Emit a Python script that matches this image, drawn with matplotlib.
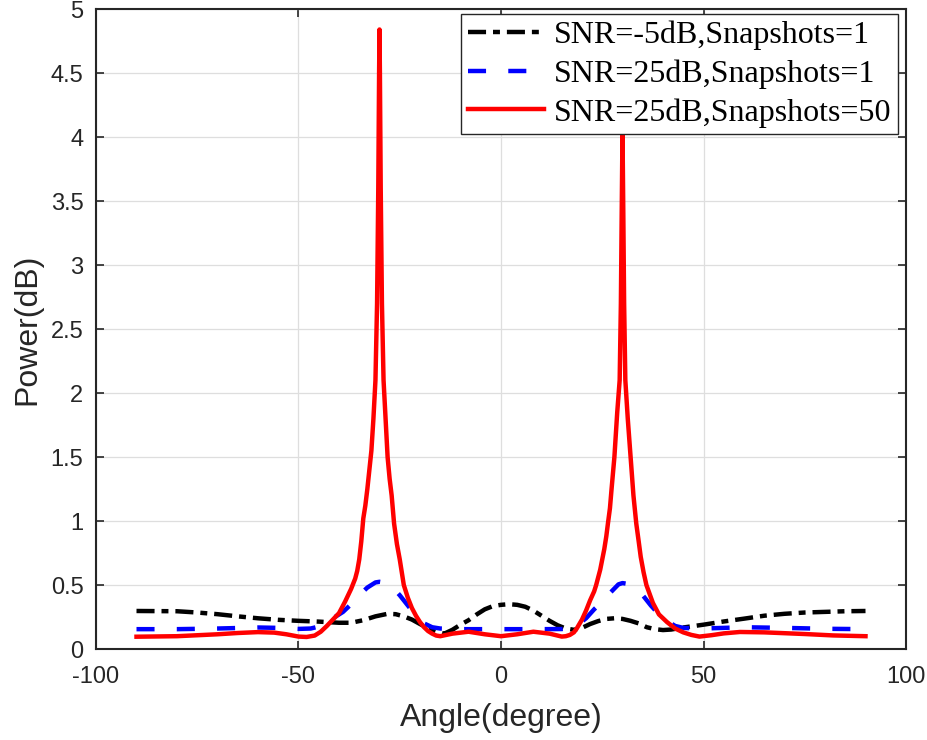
import numpy as np
from matplotlib import pyplot as plt

#======================================================================
# data (angle in degree, power)
black_angle = [-90, -80, -75, -70, -65, -60, -55, -50, -45, -40,
               -37, -34, -31, -28, -26, -24, -22, -20, -18, -16,
               -14, -12, -10, -8, -6, -4, -2, 0, 2, 4,
               6, 8, 10, 12, 14, 16, 18, 20, 22, 24,
               26, 28, 30, 32, 34, 36, 38, 40, 42, 45,
               50, 55, 60, 65, 70, 75, 80, 85, 90]
black_power = [0.297, 0.295, 0.285, 0.272, 0.255, 0.24, 0.228, 0.22, 0.214, 0.205,
               0.205, 0.225, 0.255, 0.275, 0.272, 0.255, 0.23, 0.195, 0.162, 0.135,
               0.12, 0.15, 0.19, 0.225, 0.27, 0.31, 0.335, 0.345, 0.35, 0.345,
               0.33, 0.30, 0.26, 0.22, 0.185, 0.16, 0.15, 0.165, 0.195, 0.218,
               0.235, 0.24, 0.235, 0.22, 0.20, 0.17, 0.155, 0.148, 0.152, 0.168,
               0.19, 0.215, 0.237, 0.26, 0.275, 0.285, 0.29, 0.295, 0.297]

blue_angle = [-90, -80, -70, -60, -55, -50, -47, -45, -43, -41,
              -39, -37, -35, -33, -31, -30, -29, -27, -25, -23,
              -21, -19, -17, -15, -10, -5, 0, 5, 10, 15,
              17, 19, 21, 23, 25, 27, 29, 30, 31, 33,
              35, 37, 39, 41, 43, 45, 48, 50, 55, 60,
              70, 80, 90]
blue_power = [0.155, 0.155, 0.16, 0.168, 0.165, 0.157, 0.16, 0.175, 0.21, 0.25,
              0.29, 0.35, 0.42, 0.48, 0.52, 0.525, 0.52, 0.49, 0.42, 0.34,
              0.26, 0.20, 0.17, 0.16, 0.155, 0.155, 0.155, 0.155, 0.155, 0.156,
              0.165, 0.19, 0.24, 0.31, 0.37, 0.44, 0.505, 0.515, 0.51, 0.48,
              0.42, 0.34, 0.27, 0.22, 0.18, 0.165, 0.16, 0.16, 0.165, 0.17,
              0.165, 0.158, 0.155]

red_angle = [-90, -80, -70, -65, -60, -56, -53, -50, -48, -46,
             -44.5, -43, -41.5, -40, -38.5, -37, -36, -35.5, -35, -34.5,
             -34, -33.5, -33, -32.5, -32, -31.5, -31, -30.6, -30.3, -30.1,
             -30, -29.9, -29.7, -29.4, -29, -28.5, -28, -27.5, -27, -26.4,
             -25.7, -25, -24, -23, -22, -21, -20, -19, -18, -17,
             -16, -15, -12, -8, -4, 0, 4, 8, 12, 15,
             16, 17, 18, 18.7, 20, 21, 22, 23, 23.5, 24.5,
             25.5, 26, 26.4, 26.9, 27.3, 28, 28.7, 29.3, 29.6, 29.8,
             30, 30.2, 30.4, 30.7, 31.3, 32, 32.7, 33.4, 34, 34.5,
             35.2, 35.9, 37.5, 39, 41, 43, 45, 47, 49, 52,
             55, 59, 65, 75, 82, 90]
red_power = [0.096, 0.10, 0.115, 0.125, 0.132, 0.128, 0.115, 0.097, 0.094, 0.105,
             0.135, 0.18, 0.23, 0.28, 0.37, 0.47, 0.55, 0.61, 0.70, 0.84,
             1.02, 1.12, 1.25, 1.4, 1.55, 1.8, 2.1, 2.7, 3.6, 4.5,
             4.84, 4.5, 3.6, 2.7, 2.1, 1.8, 1.5, 1.33, 1.2, 0.98,
             0.82, 0.70, 0.50, 0.40, 0.32, 0.26, 0.21, 0.17, 0.14, 0.12,
             0.105, 0.10, 0.12, 0.135, 0.115, 0.10, 0.115, 0.135, 0.12, 0.097,
             0.10, 0.11, 0.13, 0.16, 0.23, 0.30, 0.38, 0.45, 0.50, 0.62,
             0.78, 0.88, 0.98, 1.1, 1.25, 1.5, 1.85, 2.1, 2.7, 3.4,
             4.05, 3.4, 2.7, 2.1, 1.8, 1.5, 1.2, 0.98, 0.84, 0.72,
             0.60, 0.50, 0.36, 0.27, 0.21, 0.16, 0.13, 0.11, 0.097, 0.108,
             0.122, 0.133, 0.13, 0.117, 0.106, 0.10]

labels = ['SNR=-5dB,Snapshots=1', 'SNR=25dB,Snapshots=1', 'SNR=25dB,Snapshots=50']

#======================================================================
plt.rcParams['font.family'] = 'Liberation Sans'
plt.rcParams['axes.unicode_minus'] = False   # plain hyphen like MATLAB
plt.rcParams['lines.scale_dashes'] = False   # dash pattern in points

fig = plt.figure(figsize=(9.28, 7.40), dpi=100)
ax = fig.add_axes([96/928, 1-649/740, 810/928, 640/740])

lw = 3.2
ax.plot(black_angle, black_power, color='k', lw=lw,
        linestyle=(0, (13, 5, 5, 5)), label=labels[0])
ax.plot(blue_angle, blue_power, color=(0, 0, 1), lw=lw,
        linestyle=(0, (13, 16)), label=labels[1])
ax.plot(red_angle, red_power, color=(1, 0, 0), lw=lw,
        linestyle='-', solid_joinstyle='round', label=labels[2])

ax.set_xlim(-100, 100)
ax.set_ylim(0, 5)
ax.set_xticks(np.arange(-100, 101, 50))
ax.set_yticks(np.arange(0, 5.01, 0.5))
ax.set_yticklabels(['0', '0.5', '1', '1.5', '2', '2.5', '3', '3.5', '4', '4.5', '5'])

# MATLAB-like box and grid
ax.grid(True, color='#dedede', linewidth=0.9)
ax.set_axisbelow(True)
for sp in ax.spines.values():
    sp.set_color('#262626')
    sp.set_linewidth(1.5)
ax.tick_params(axis='both', direction='in', top=True, right=True,
               length=6, width=1.2, colors='#262626', labelsize=17)
ax.tick_params(axis='x', pad=12)
ax.tick_params(axis='y', pad=9)

ax.set_xlabel('Angle(degree)', fontsize=23, color='#262626', labelpad=11)
ax.set_ylabel('Power(dB)', fontsize=23, color='#262626', labelpad=6)

leg = ax.legend(loc='upper right', bbox_to_anchor=(0.990, 0.992),
                borderaxespad=0, prop={'family': 'Liberation Serif', 'size': 23},
                handlelength=2.4, handletextpad=0.3, borderpad=0.2,
                labelspacing=0.29, fancybox=False, framealpha=1)
leg.get_frame().set_edgecolor('#262626')
leg.get_frame().set_linewidth(1.0)

plt.savefig('out.png', dpi=100)
